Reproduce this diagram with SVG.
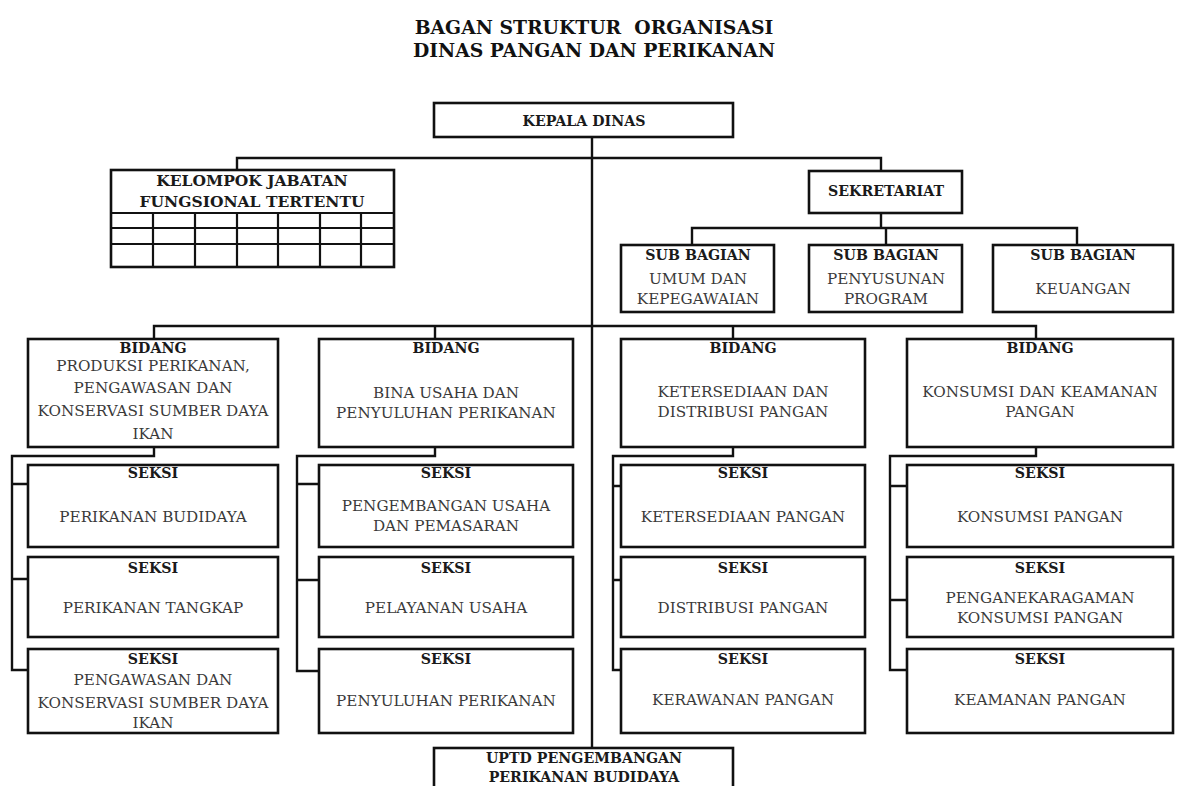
<svg xmlns="http://www.w3.org/2000/svg" width="1190" height="786" viewBox="0 0 1190 786">
<style>
.box{fill:#fff;stroke:#111;stroke-width:2.6}
.ln{fill:none;stroke:#111;stroke-width:2.4}
.grid{fill:none;stroke:#111;stroke-width:2.2}
text{font-family:"DejaVu Serif","Liberation Serif",serif;text-anchor:middle}
.h{font-weight:bold;font-size:14.2px;fill:#1a1a1a}
.t{font-size:15.2px;fill:#3a3a3a}
.title{font-weight:bold;font-size:18.8px;fill:#111}
</style>
<rect width="1190" height="786" fill="#fff"/>
<g id="title">
<text class="title" x="594" y="34">BAGAN STRUKTUR&#160; ORGANISASI</text>
<text class="title" x="594" y="57">DINAS PANGAN DAN PERIKANAN</text>
</g>
<g id="connectors">
<path class="ln" d="M592 137 V748"/>
<path class="ln" d="M237 170 V158 H881 V171"/>
<path class="ln" d="M881 213 V228 M692 245 V228 H1077 V245 M886 228 V245"/>
<path class="ln" d="M154 339 V326 H1036 V339 M435 326 V339 M733 326 V339"/>
<path class="ln" d="M154 448 V456 H12 V670 H28 M12 484 H28 M12 579 H28"/>
<path class="ln" d="M435 448 V456 H297 V671 H319 M297 484 H319 M297 580 H319"/>
<path class="ln" d="M733 448 V456 H613 V670 H621 M613 486 H621 M613 580 H621"/>
<path class="ln" d="M1036 448 V456 H890 V670 H907 M890 486 H907 M890 600 H907"/>
</g>
<g id="kepala-dinas">
<rect class="box" x="434" y="103" width="299" height="34"/>
<text class="h" x="584" y="126">KEPALA DINAS</text>
</g>
<g id="kelompok-jabatan">
<rect class="box" x="111" y="170" width="283" height="97"/>
<path class="grid" d="M111 213 H394 M111 228 H394 M111 244 H394 M153 213 V267 M195 213 V267 M237 213 V267 M278 213 V267 M320 213 V267 M361 213 V267"/>
<text class="h" x="252" y="186" style="font-size:15.5px">KELOMPOK JABATAN</text>
<text class="h" x="252" y="207" style="font-size:15.5px">FUNGSIONAL TERTENTU</text>
</g>
<g id="sekretariat">
<rect class="box" x="809" y="171" width="153" height="42"/>
<text class="h" x="886" y="196">SEKRETARIAT</text>
</g>
<g id="subbag-umum">
<rect class="box" x="621" y="245" width="153" height="67"/>
<text class="h" x="698" y="260">SUB BAGIAN</text>
<text class="t" x="698" y="284">UMUM DAN</text>
<text class="t" x="698" y="304">KEPEGAWAIAN</text>
</g>
<g id="subbag-program">
<rect class="box" x="809" y="245" width="153" height="67"/>
<text class="h" x="886" y="260">SUB BAGIAN</text>
<text class="t" x="886" y="284">PENYUSUNAN</text>
<text class="t" x="886" y="304">PROGRAM</text>
</g>
<g id="subbag-keuangan">
<rect class="box" x="993" y="245" width="180" height="67"/>
<text class="h" x="1083" y="260">SUB BAGIAN</text>
<text class="t" x="1083" y="294">KEUANGAN</text>
</g>
<g id="bidang-produksi">
<rect class="box" x="28" y="339" width="250" height="108"/>
<text class="h" x="153" y="353">BIDANG</text>
<text class="t" x="153" y="371">PRODUKSI PERIKANAN,</text>
<text class="t" x="153" y="393">PENGAWASAN DAN</text>
<text class="t" x="153" y="416">KONSERVASI SUMBER DAYA</text>
<text class="t" x="153" y="439">IKAN</text>
</g>
<g id="bidang-bina-usaha">
<rect class="box" x="319" y="339" width="254" height="108"/>
<text class="h" x="446" y="353">BIDANG</text>
<text class="t" x="446" y="398">BINA USAHA DAN</text>
<text class="t" x="446" y="418">PENYULUHAN PERIKANAN</text>
</g>
<g id="bidang-ketersediaan">
<rect class="box" x="621" y="339" width="244" height="108"/>
<text class="h" x="743" y="353">BIDANG</text>
<text class="t" x="743" y="397">KETERSEDIAAN DAN</text>
<text class="t" x="743" y="417">DISTRIBUSI PANGAN</text>
</g>
<g id="bidang-konsumsi">
<rect class="box" x="907" y="339" width="266" height="108"/>
<text class="h" x="1040" y="353">BIDANG</text>
<text class="t" x="1040" y="397">KONSUMSI DAN KEAMANAN</text>
<text class="t" x="1040" y="417">PANGAN</text>
</g>
<g id="seksi-perikanan-budidaya">
<rect class="box" x="28" y="465" width="250" height="82"/>
<text class="h" x="153" y="478">SEKSI</text>
<text class="t" x="153" y="522">PERIKANAN BUDIDAYA</text>
</g>
<g id="seksi-perikanan-tangkap">
<rect class="box" x="28" y="557" width="250" height="80"/>
<text class="h" x="153" y="573">SEKSI</text>
<text class="t" x="153" y="613">PERIKANAN TANGKAP</text>
</g>
<g id="seksi-pengawasan">
<rect class="box" x="28" y="649" width="250" height="84"/>
<text class="h" x="153" y="664">SEKSI</text>
<text class="t" x="153" y="685">PENGAWASAN DAN</text>
<text class="t" x="153" y="708">KONSERVASI SUMBER DAYA</text>
<text class="t" x="153" y="728">IKAN</text>
</g>
<g id="seksi-pengembangan-usaha">
<rect class="box" x="319" y="465" width="254" height="82"/>
<text class="h" x="446" y="478">SEKSI</text>
<text class="t" x="446" y="511">PENGEMBANGAN USAHA</text>
<text class="t" x="446" y="531">DAN PEMASARAN</text>
</g>
<g id="seksi-pelayanan-usaha">
<rect class="box" x="319" y="557" width="254" height="80"/>
<text class="h" x="446" y="573">SEKSI</text>
<text class="t" x="446" y="613">PELAYANAN USAHA</text>
</g>
<g id="seksi-penyuluhan">
<rect class="box" x="319" y="649" width="254" height="84"/>
<text class="h" x="446" y="664">SEKSI</text>
<text class="t" x="446" y="706">PENYULUHAN PERIKANAN</text>
</g>
<g id="seksi-ketersediaan">
<rect class="box" x="621" y="465" width="244" height="82"/>
<text class="h" x="743" y="478">SEKSI</text>
<text class="t" x="743" y="522">KETERSEDIAAN PANGAN</text>
</g>
<g id="seksi-distribusi">
<rect class="box" x="621" y="557" width="244" height="80"/>
<text class="h" x="743" y="573">SEKSI</text>
<text class="t" x="743" y="613">DISTRIBUSI PANGAN</text>
</g>
<g id="seksi-kerawanan">
<rect class="box" x="621" y="649" width="244" height="84"/>
<text class="h" x="743" y="664">SEKSI</text>
<text class="t" x="743" y="705">KERAWANAN PANGAN</text>
</g>
<g id="seksi-konsumsi">
<rect class="box" x="907" y="465" width="266" height="82"/>
<text class="h" x="1040" y="478">SEKSI</text>
<text class="t" x="1040" y="522">KONSUMSI PANGAN</text>
</g>
<g id="seksi-penganekaragaman">
<rect class="box" x="907" y="557" width="266" height="80"/>
<text class="h" x="1040" y="573">SEKSI</text>
<text class="t" x="1040" y="603">PENGANEKARAGAMAN</text>
<text class="t" x="1040" y="623">KONSUMSI PANGAN</text>
</g>
<g id="seksi-keamanan">
<rect class="box" x="907" y="649" width="266" height="84"/>
<text class="h" x="1040" y="664">SEKSI</text>
<text class="t" x="1040" y="705">KEAMANAN PANGAN</text>
</g>
<g id="uptd">
<rect class="box" x="434" y="748" width="299" height="50"/>
<text class="h" x="584" y="763">UPTD PENGEMBANGAN</text>
<text class="h" x="584" y="782">PERIKANAN BUDIDAYA</text>
</g>
</svg>
